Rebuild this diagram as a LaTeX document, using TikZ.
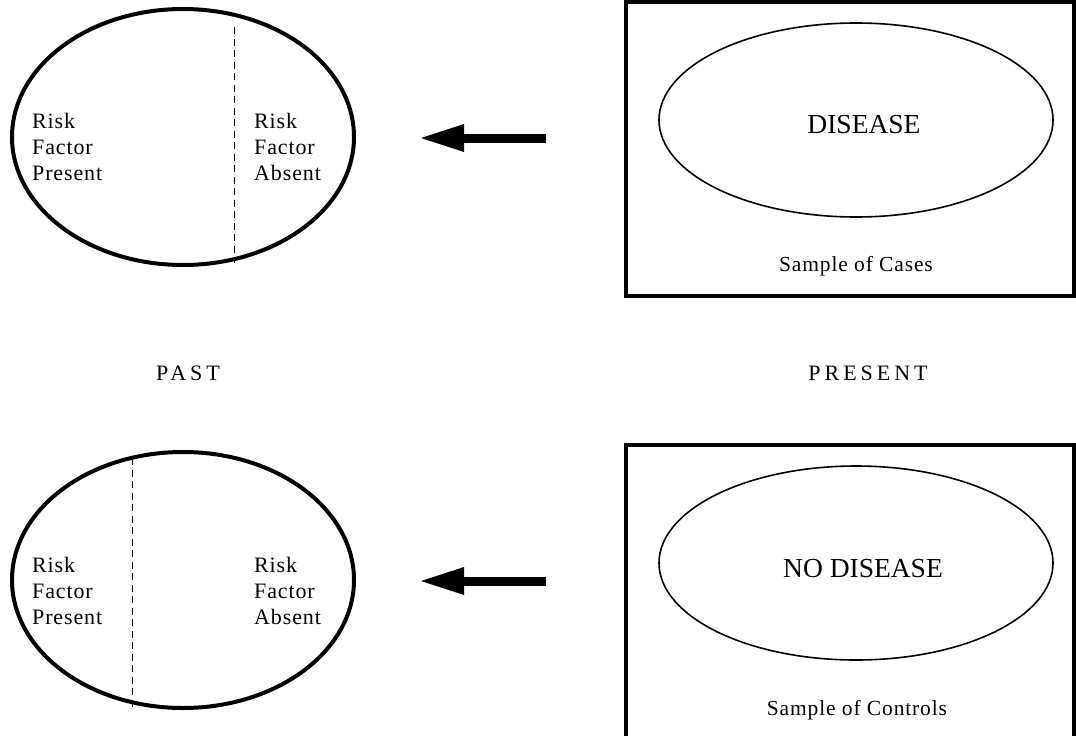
\documentclass[tikz,border=0pt]{standalone}
\usepackage{fontspec}
\setmainfont{Liberation Serif}
\newfontfamily\lsfont[LetterSpace=18]{Liberation Serif}
\newfontfamily\rkfont[LetterSpace=4]{Liberation Serif}
\usetikzlibrary{shapes.geometric,arrows.meta}
\begin{document}
\begin{tikzpicture}[x=1pt,y=-1pt,
  bigell/.style={ellipse,draw,line width=4pt,minimum width=342pt,minimum height=256pt,inner sep=0pt},
  smell/.style={ellipse,draw,line width=1.6pt,minimum width=394pt,minimum height=194pt,inner sep=0pt},
  frame/.style={rectangle,draw,line width=4pt,minimum width=448pt,minimum height=294pt,inner sep=0pt},
  divider/.style={dash pattern=on 7pt off 4.5pt,line width=1pt},
  risk/.style={align=left,anchor=north west,inner sep=0pt,font=\fontsize{22}{26}\selectfont\rkfont},
  bigtxt/.style={anchor=base,inner sep=0pt,font=\fontsize{27.5}{30}\selectfont},
  sample/.style={anchor=base,inner sep=0pt,font=\fontsize{21.5}{24}\selectfont\rkfont},
  timetxt/.style={anchor=base,inner sep=0pt,font=\fontsize{22}{24}\selectfont\lsfont},
  bigarrow/.style={line width=9pt,-{Triangle[length=43pt,width=28pt,line width=0pt]}}
]
\useasboundingbox (0,0) rectangle (1076,736);
\clip (0,0) rectangle (1076,736);

% top row
\node[bigell] (pastA) at (183,137) {};
\draw[divider] (234,27) -- (234,263);
\node[risk] (pastAp) at (32,113) {Risk\\Factor\\Present};
\node[risk] (pastAa) at (254,113) {Risk\\Factor\\Absent};

\node[frame] (cases) at (850,149) {};
\node[smell] (dis) at (856,120) {};
\node[bigtxt] (distxt) at (864,133) {DISEASE};
\node[sample] (castxt) at (856,271) {Sample of Cases};

\coordinate (a1s) at (546,138);
\coordinate (a1e) at (421,138);
\draw[bigarrow] (a1s) -- (a1e);

% middle labels
\node[timetxt] (past) at (188,380) {PAST};
\node[timetxt] (present) at (868,380) {PRESENT};

% bottom row
\node[bigell] (pastB) at (183,580) {};
\draw[divider] (132,458) -- (132,707);
\node[risk] (pastBp) at (32,557) {Risk\\Factor\\Present};
\node[risk] (pastBa) at (254,557) {Risk\\Factor\\Absent};

\node[frame] (controls) at (850,592) {};
\node[smell] (nodis) at (856,563) {};
\node[bigtxt] (nodistxt) at (863,577) {NO DISEASE};
\node[sample] (contxt) at (857,715) {Sample of Controls};

\coordinate (a2s) at (546,581);
\coordinate (a2e) at (421,581);
\draw[bigarrow] (a2s) -- (a2e);
\end{tikzpicture}
\end{document}
